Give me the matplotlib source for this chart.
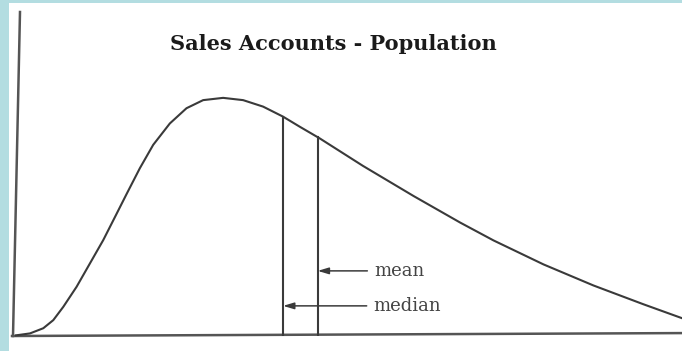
import numpy as np
import matplotlib.pyplot as plt
from matplotlib.patches import Rectangle

# skewed population of sales accounts (relative units)
sales = [0.0, 2.1, 4.1, 5.6, 7.1, 9.1, 11.1, 13.1, 15.1, 16.6, 18.6, 20.6,
         23.1, 25.6, 28.1, 31.1, 34.1, 37.1, 40.1, 42.6, 45.6, 52.1, 59.7,
         66.7, 71.7, 79.2, 86.7, 94.2, 100.0]
freq = [0.2, 0.8, 2.4, 4.9, 9.0, 15.2, 22.4, 29.6, 37.7, 43.8, 51.8, 59.0,
        65.6, 70.3, 72.8, 73.5, 72.8, 70.8, 67.7, 64.6, 61.0, 52.5, 43.2,
        35.0, 29.5, 22.1, 15.6, 9.8, 5.5]
median = 40.1
mean = 45.3
title = "Sales Accounts - Population"

ink = "#3a3a3a"
fig = plt.figure(figsize=(6.82, 3.51), dpi=100)
fig.patch.set_facecolor("#b3dde1")
fig.patches.append(Rectangle((9 / 682, 0), 1, 348 / 351, transform=fig.transFigure,
                             facecolor="white", edgecolor="none", zorder=-1))

ax = fig.add_axes([16 / 682, 15 / 351, 666 / 682, 324 / 351])
ax.set_xlim(0, 100)
ax.set_ylim(0, 100)
ax.axis("off")

# hand drawn axes
ax.plot([-0.45, 0.6], [0, 100], color="#555555", lw=1.8, clip_on=False)
ax.plot([-0.6, 100], [0, 0.9], color="#555555", lw=1.8, clip_on=False)

ax.plot(sales, freq, color=ink, lw=1.5, clip_on=False, solid_joinstyle="round")

for v in (median, mean):
    ax.plot([v, v], [0, np.interp(v, sales, freq)], color=ink, lw=1.5)

arrow = dict(arrowstyle="-|>,head_length=0.5,head_width=0.15", color=ink, lw=1.1,
             shrinkA=3, shrinkB=0)
ax.annotate("mean", xy=(mean, 20.1), xytext=(53.8, 20.1), va="center", ha="left",
            family="DejaVu Serif", fontsize=13, color="#444444", arrowprops=arrow)
ax.annotate("median", xy=(median, 9.3), xytext=(53.7, 9.3), va="center", ha="left",
            family="DejaVu Serif", fontsize=13, color="#444444", arrowprops=arrow)

fig.text(333 / 682, 1 - 44 / 351, title, ha="center", va="center",
         family="DejaVu Serif", fontweight="bold", fontsize=15, color="#1a1a1a")

fig.savefig("out.png", dpi=100)
